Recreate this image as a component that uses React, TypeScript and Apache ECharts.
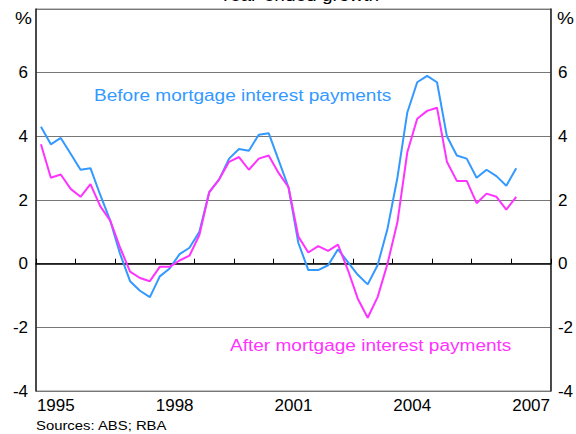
import React, { useEffect, useRef } from "react";
import * as echarts from "echarts";

const yearLabels = ["1995", "1996", "1997", "1998", "1999", "2000", "2001", "2002", "2003", "2004", "2005", "2006", "2007"];
const shownYears = ["1995", "1998", "2001", "2004", "2007"];
const quarters: string[] = [];
yearLabels.forEach((y) => ["Q1", "Q2", "Q3", "Q4"].forEach((q) => quarters.push(y + q)));

// Year-ended growth, %, quarterly from 1995Q1 to 2007Q1
const beforeMortgage = [
  4.3, 3.75, 3.95, 3.45, 2.95, 3.0, 2.15, 1.35, 0.3, -0.55, -0.85, -1.05,
  -0.4, -0.15, 0.3, 0.5, 1.0, 2.25, 2.65, 3.3, 3.6, 3.55, 4.05, 4.1,
  3.25, 2.4, 0.65, -0.2, -0.2, -0.05, 0.45, 0.05, -0.35, -0.65, -0.05, 1.1,
  2.7, 4.75, 5.7, 5.9, 5.7, 4.0, 3.4, 3.3, 2.7, 2.95, 2.75, 2.45, 3.0,
];
const afterMortgage = [
  3.75, 2.7, 2.8, 2.35, 2.1, 2.5, 1.8, 1.35, 0.5, -0.25, -0.45, -0.55,
  -0.1, -0.1, 0.1, 0.25, 0.9, 2.25, 2.65, 3.2, 3.35, 2.95, 3.3, 3.4,
  2.85, 2.4, 0.85, 0.35, 0.55, 0.4, 0.6, -0.2, -1.1, -1.7, -1.05, 0.0,
  1.3, 3.5, 4.55, 4.8, 4.9, 3.2, 2.6, 2.6, 1.9, 2.2, 2.1, 1.7, 2.1,
];

const BLUE = "#3399ff";
const MAGENTA = "#ff33ff";
const FONT = "'Liberation Sans', Arial, sans-serif";
const SX = 1.19;

export default function App() {
  const ref = useRef<HTMLDivElement>(null);
  useEffect(() => {
    if (!ref.current) return;
    const chart = echarts.init(ref.current, undefined, { renderer: "svg" });
    const yAxisCommon = {
      type: "value" as const,
      min: -4,
      max: 8,
      interval: 2,
      axisLine: { show: true, lineStyle: { color: "#222", width: 1.5 } },
      axisTick: { show: false },
      axisLabel: {
        color: "#000",
        fontSize: 17,
        fontFamily: FONT,
        formatter: (v: number) => (v === 8 ? "" : String(v)),
      },
    };
    const text = (t: string, x: number, y: number, color: string, size: number, align: string = "left") => ({
      type: "text",
      x,
      y,
      scaleX: SX,
      style: {
        text: t,
        fill: color,
        font: `${size}px ${FONT}`,
        textAlign: align,
        textVerticalAlign: "middle",
      },
    });
    chart.setOption({
      animation: false,
      grid: {
        left: 36,
        right: 24,
        top: 9,
        bottom: 43,
        show: true,
        borderColor: "#888",
        borderWidth: 1,
        backgroundColor: "transparent",
      },
      xAxis: [
        {
          type: "category",
          data: yearLabels,
          boundaryGap: true,
          position: "bottom",
          axisLine: { show: true, lineStyle: { color: "#000", width: 1.5 } },
          axisTick: { show: true, inside: true, length: 5, interval: 0, lineStyle: { color: "#000" } },
          axisLabel: {
            color: "#000",
            fontSize: 17,
            fontFamily: FONT,
            margin: 6,
            interval: 0,
            formatter: (v: string) => (shownYears.includes(v) ? v : ""),
          },
          splitLine: { show: false },
        },
        {
          type: "category",
          data: quarters,
          boundaryGap: true,
          show: false,
          position: "bottom",
        },
      ],
      yAxis: [
        {
          ...yAxisCommon,
          position: "left",
          axisLabel: { ...yAxisCommon.axisLabel, margin: 8 },
          splitLine: { show: true, lineStyle: { color: "#777", width: 1 } },
        },
        {
          ...yAxisCommon,
          position: "right",
          axisLabel: { ...yAxisCommon.axisLabel, margin: 7 },
          splitLine: { show: false },
        },
      ],
      series: [
        {
          name: "Before mortgage interest payments",
          type: "line",
          xAxisIndex: 1,
          yAxisIndex: 0,
          data: beforeMortgage,
          showSymbol: false,
          symbol: "none",
          lineStyle: { color: BLUE, width: 2 },
          z: 3,
        },
        {
          name: "After mortgage interest payments",
          type: "line",
          xAxisIndex: 1,
          yAxisIndex: 0,
          data: afterMortgage,
          showSymbol: false,
          symbol: "none",
          lineStyle: { color: MAGENTA, width: 2 },
          z: 4,
        },
      ],
      graphic: [
        text("Year-ended growth", 299, -4, "#000", 16, "center"),
        text("%", 32, 19, "#000", 16, "right"),
        text("%", 557, 19, "#000", 16, "left"),
        text("Before mortgage interest payments", 94, 96, BLUE, 16),
        text("After mortgage interest payments", 230, 346, MAGENTA, 16),
        text("Sources: ABS; RBA", 36, 426, "#000", 12.5),
      ],
    });
    return () => chart.dispose();
  }, []);
  return (
    <div
      ref={ref}
      style={{ position: "fixed", left: 0, top: 0, width: 576, height: 434, background: "#fff" }}
    />
  );
}
